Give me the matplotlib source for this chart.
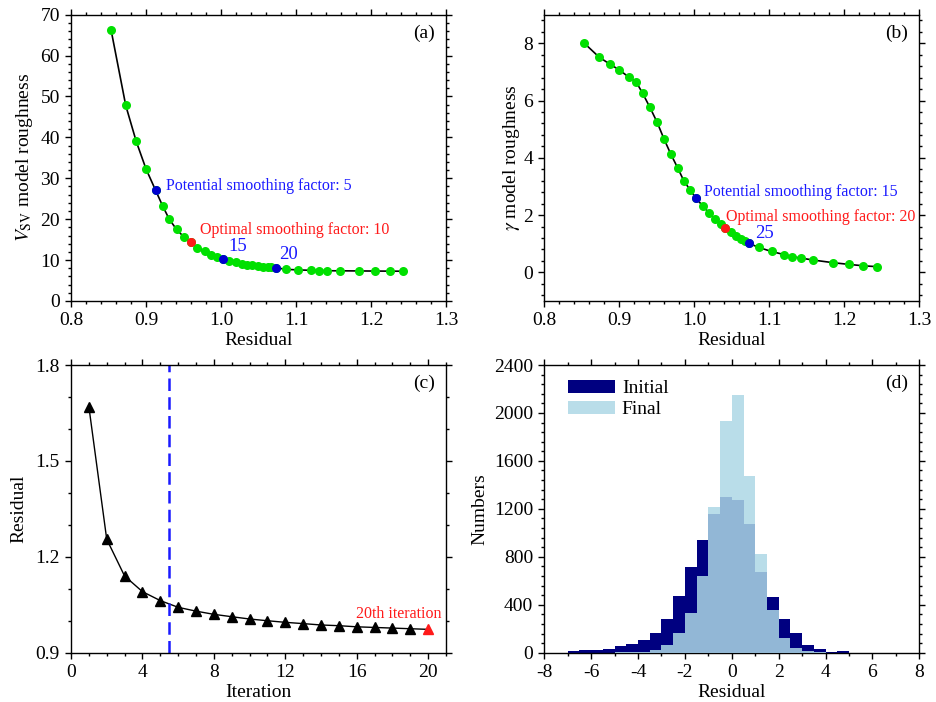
import numpy as np
import matplotlib
matplotlib.use("Agg")
import matplotlib.pyplot as plt
from matplotlib.ticker import MultipleLocator, AutoMinorLocator, FormatStrFormatter
from matplotlib.patches import Patch

plt.rcParams['font.family'] = ['Liberation Serif', 'DejaVu Serif']
plt.rcParams['mathtext.fontset'] = 'stix'
plt.rcParams['axes.unicode_minus'] = False

# L-curve: data residual for each trial smoothing factor (shared by both parameters)
residual = [0.8535, 0.873, 0.887, 0.900, 0.9127, 0.9223, 0.931, 0.9407, 0.9503, 0.9596,
            0.9685, 0.978, 0.986, 0.9947, 1.0023, 1.0112, 1.0196, 1.0276, 1.035, 1.0413,
            1.049, 1.0556, 1.062, 1.067, 1.0733, 1.086, 1.103, 1.1198, 1.1305, 1.1418,
            1.1587, 1.1845, 1.2056, 1.2253, 1.2432]
vsv_roughness = [66.2, 47.8, 39.0, 32.3, 27.1, 23.2, 20.0, 17.5, 15.7, 14.35,
                 13.0, 12.2, 11.3, 10.8, 10.27, 9.78, 9.46, 9.12, 8.88, 8.73,
                 8.56, 8.39, 8.31, 8.24, 8.14, 7.75, 7.6, 7.5, 7.45, 7.4,
                 7.38, 7.35, 7.32, 7.3, 7.28]
gamma_roughness = [8.0, 7.52, 7.28, 7.07, 6.82, 6.66, 6.26, 5.77, 5.25, 4.66,
                   4.14, 3.64, 3.2, 2.87, 2.59, 2.32, 2.08, 1.85, 1.69, 1.55,
                   1.40, 1.27, 1.16, 1.08, 1.01, 0.87, 0.73, 0.62, 0.55, 0.50,
                   0.43, 0.34, 0.28, 0.23, 0.20]

# highlighted points (index into the arrays above)
vsv_potential = [4, 14, 24]
vsv_optimal = 9
gamma_potential = [14, 24]
gamma_optimal = 19

# misfit convergence
iterations = list(range(1, 21))
iter_residual = [1.670, 1.255, 1.140, 1.091, 1.063, 1.042, 1.030, 1.020, 1.0126, 1.0054,
                 1.000, 0.995, 0.991, 0.9867, 0.9845, 0.981, 0.979, 0.977, 0.975, 0.973]
chosen_iteration = 5.5

# residual histograms
bin_edges = np.arange(-7.0, 5.01, 0.5)
initial_counts = [14, 20, 23, 31, 56, 76, 106, 162, 280, 470, 717, 939,
                  1157, 1299, 1271, 1076, 673, 462, 280, 168, 64, 31, 10, 14]
final_counts = [0, 0, 0, 0, 2, 5, 10, 23, 64, 162, 330, 638,
                1217, 1933, 2147, 1477, 823, 358, 121, 40, 14, 5, 0, 0]

GREEN = '#00e000'
BLUE_PT = '#0000d0'
BLUE_TX = '#1a1aff'
RED = '#ff1a1a'
FS = 14
MS = 6.5

fig = plt.figure(figsize=(9.36, 7.02), dpi=100)
W, H = 936, 702
def box(l, r, t, b):
    return [l / W, 1 - b / H, (r - l) / W, (b - t) / H]

axa = fig.add_axes(box(71, 446, 14.7, 301))
axb = fig.add_axes(box(544.3, 919.3, 14.7, 301))
axc = fig.add_axes(box(71, 446, 365, 652.7))
axd = fig.add_axes(box(544.3, 919.3, 365, 652.7))

def style(ax):
    ax.tick_params(which='both', direction='out', top=True, right=True,
                   labelsize=FS, width=1.0)
    ax.tick_params(which='major', length=4.5)
    ax.tick_params(which='minor', length=2.5)
    for s in ax.spines.values():
        s.set_linewidth(1.0)

# (a) Vsv L-curve
ax = axa
ax.plot(residual, vsv_roughness, color='k', lw=1.2, zorder=2)
ax.plot(residual, vsv_roughness, 'o', color=GREEN, ms=MS, mec='none', zorder=3)
ax.plot([residual[i] for i in vsv_potential], [vsv_roughness[i] for i in vsv_potential],
        'o', color=BLUE_PT, ms=MS, mec='none', zorder=4)
ax.plot(residual[vsv_optimal], vsv_roughness[vsv_optimal], 'o', color=RED, ms=MS, mec='none', zorder=4)
ax.text(0.926, 28.2, 'Potential smoothing factor: 5', color=BLUE_TX, fontsize=11.5, va='center')
ax.text(0.972, 17.4, 'Optimal smoothing factor: 10', color=RED, fontsize=11.5, va='center')
ax.text(1.0097, 13.3, '15', color=BLUE_TX, fontsize=13.5, va='center')
ax.text(1.0773, 11.25, '20', color=BLUE_TX, fontsize=13.5, va='center')
ax.set_xlim(0.8, 1.3)
ax.set_ylim(0, 70)
ax.xaxis.set_major_locator(MultipleLocator(0.1))
ax.xaxis.set_minor_locator(AutoMinorLocator(5))
ax.xaxis.set_major_formatter(FormatStrFormatter('%.1f'))
ax.yaxis.set_major_locator(MultipleLocator(10))
ax.yaxis.set_minor_locator(AutoMinorLocator(5))
ax.set_xlabel('Residual', fontsize=FS, labelpad=2)
ax.set_ylabel(r'$V_{\mathrm{SV}}$ model roughness', fontsize=FS, labelpad=4)
ax.text(0.971, 0.935, '(a)', transform=ax.transAxes, ha='right', va='center', fontsize=14)
style(ax)

# (b) gamma L-curve
ax = axb
ax.plot(residual, gamma_roughness, color='k', lw=1.2, zorder=2)
ax.plot(residual, gamma_roughness, 'o', color=GREEN, ms=MS, mec='none', zorder=3)
ax.plot([residual[i] for i in gamma_potential], [gamma_roughness[i] for i in gamma_potential],
        'o', color=BLUE_PT, ms=MS, mec='none', zorder=4)
ax.plot(residual[gamma_optimal], gamma_roughness[gamma_optimal], 'o', color=RED, ms=MS, mec='none', zorder=4)
ax.text(1.013, 2.80, 'Potential smoothing factor: 15', color=BLUE_TX, fontsize=11.5, va='center')
ax.text(1.0423, 1.94, 'Optimal smoothing factor: 20', color=RED, fontsize=11.5, va='center')
ax.text(1.0809, 1.37, '25', color=BLUE_TX, fontsize=13.5, va='center')
ax.set_xlim(0.8, 1.3)
ax.set_ylim(-1, 9)
ax.xaxis.set_major_locator(MultipleLocator(0.1))
ax.xaxis.set_minor_locator(AutoMinorLocator(5))
ax.xaxis.set_major_formatter(FormatStrFormatter('%.1f'))
ax.yaxis.set_major_locator(MultipleLocator(2))
ax.yaxis.set_minor_locator(AutoMinorLocator(5))
ax.set_xlabel('Residual', fontsize=FS, labelpad=2)
ax.set_ylabel(r'$\gamma$ model roughness', fontsize=FS, labelpad=1)
ax.text(0.971, 0.935, '(b)', transform=ax.transAxes, ha='right', va='center', fontsize=14)
style(ax)

# (c) residual vs iteration
ax = axc
ax.plot(iterations, iter_residual, color='k', lw=1.0, zorder=2)
ax.plot(iterations[:-1], iter_residual[:-1], '^', color='k', ms=6.5, zorder=3)
ax.plot(iterations[-1], iter_residual[-1], '^', color=RED, ms=6.5, zorder=3)
ax.axvline(chosen_iteration, color='#1a1aff', lw=1.8, ls=(0, (5, 2.5)))
ax.text(18.37, 1.021, '20th iteration', color=RED, fontsize=11.5, ha='center', va='center')
ax.set_xlim(0, 21)
ax.set_ylim(0.9, 1.8)
ax.xaxis.set_major_locator(MultipleLocator(4))
ax.xaxis.set_minor_locator(MultipleLocator(1))
ax.yaxis.set_major_locator(MultipleLocator(0.3))
ax.yaxis.set_minor_locator(MultipleLocator(0.1))
ax.yaxis.set_major_formatter(FormatStrFormatter('%.1f'))
ax.set_xlabel('Iteration', fontsize=FS, labelpad=2)
ax.set_ylabel('Residual', fontsize=FS, labelpad=6)
ax.text(0.971, 0.936, '(c)', transform=ax.transAxes, ha='right', va='center', fontsize=14)
style(ax)

# (d) residual histograms
ax = axd
width = bin_edges[1] - bin_edges[0]
ax.bar(bin_edges[:-1], initial_counts, width=width, align='edge', color='#000080',
       edgecolor='none', zorder=2)
ax.bar(bin_edges[:-1], final_counts, width=width, align='edge', color='#add8e6',
       alpha=0.85, edgecolor='none', zorder=3)
ax.set_xlim(-8, 8)
ax.set_ylim(0, 2400)
ax.xaxis.set_major_locator(MultipleLocator(2))
ax.xaxis.set_minor_locator(MultipleLocator(1))
ax.yaxis.set_major_locator(MultipleLocator(400))
ax.yaxis.set_minor_locator(AutoMinorLocator(5))
ax.set_xlabel('Residual', fontsize=FS, labelpad=2)
ax.set_ylabel('Numbers', fontsize=FS, labelpad=4)
handles = [Patch(facecolor='#000080', edgecolor='none', label='Initial'),
           Patch(facecolor='#add8e6', alpha=0.85, edgecolor='none', label='Final')]
ax.legend(handles=handles, loc='upper left', bbox_to_anchor=(0.064, 0.948),
          frameon=False, fontsize=FS, borderpad=0, borderaxespad=0,
          handlelength=2.4, handleheight=0.62, handletextpad=0.35, labelspacing=0.2)
ax.text(0.971, 0.936, '(d)', transform=ax.transAxes, ha='right', va='center', fontsize=14)
style(ax)

fig.savefig('out.png', dpi=100)
